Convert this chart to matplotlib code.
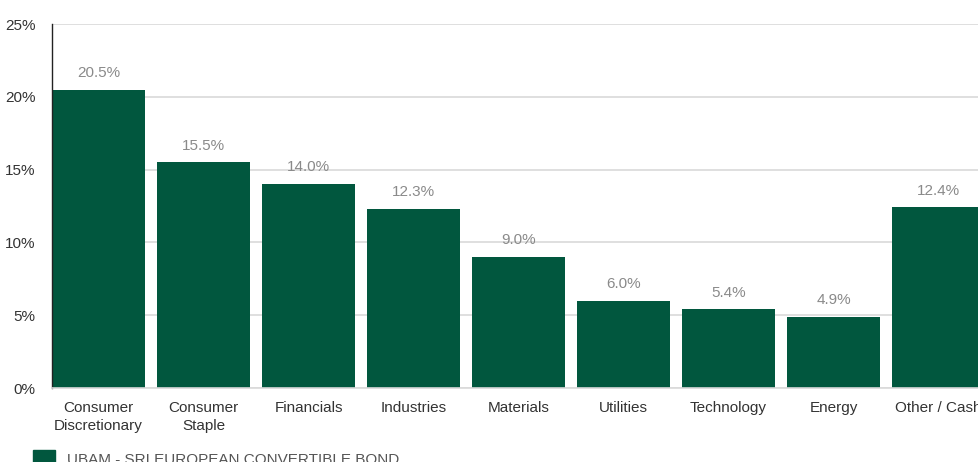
import matplotlib.pyplot as plt
from matplotlib.patches import Rectangle

plt.rcParams['font.family'] = ['Liberation Sans', 'DejaVu Sans']

sectors = ['Consumer\nDiscretionary', 'Consumer\nStaple', 'Financials', 'Industries',
           'Materials', 'Utilities', 'Technology', 'Energy', 'Other / Cash']
weights = [20.5, 15.5, 14.0, 12.3, 9.0, 6.0, 5.4, 4.9, 12.4]
yticks = [0, 5, 10, 15, 20, 25]
series_name = 'UBAM - SRI EUROPEAN CONVERTIBLE BOND'

green = '#01573e'

fig = plt.figure(figsize=(9.79, 4.62), dpi=100)
# axis runs past the right edge, like the original (last bar is cut)
ax = fig.add_axes([52/979, 74/462, 945/979, 364/462])

x = list(range(len(weights)))
bw = 0.886
ax.bar(x, weights, width=bw, align='edge', color=green, zorder=2)
for xi, w in zip(x, weights):
    ax.annotate(f'{w:.1f}%', (xi + bw/2, w), xytext=(0, 7), textcoords='offset points',
                ha='center', va='bottom', color='#8a8a8a', fontsize=11)

ax.set_xlim(0, len(weights))
ax.set_ylim(0, 25)
ax.set_yticks(yticks)
ax.set_yticklabels([f'{t}%' for t in yticks], color='#333333', fontsize=11)
ax.set_xticks([xi + bw/2 for xi in x])
ax.set_xticklabels(sectors, color='#333333', fontsize=11, linespacing=1.35)
ax.tick_params(axis='both', length=0)
ax.tick_params(axis='x', pad=9.5)
ax.tick_params(axis='y', pad=12)
ax.grid(axis='y', color='#d9d9d9', lw=1.2, zorder=0)
ax.set_axisbelow(True)
for s in ['top', 'right']:
    ax.spines[s].set_visible(False)
ax.spines['bottom'].set_color('#d9d9d9')
ax.spines['bottom'].set_linewidth(1.2)
ax.spines['left'].set_color('#222222')
ax.spines['left'].set_linewidth(1.0)

# legend at the bottom, partly cut off like the original
fig.patches.append(Rectangle((33/979, -4/462), 22/979, 16/462, transform=fig.transFigure,
                             color=green, clip_on=False))
fig.text(67/979, -5/462, series_name, color='#555555', fontsize=11, va='bottom')

fig.savefig('out.png', dpi=100)
